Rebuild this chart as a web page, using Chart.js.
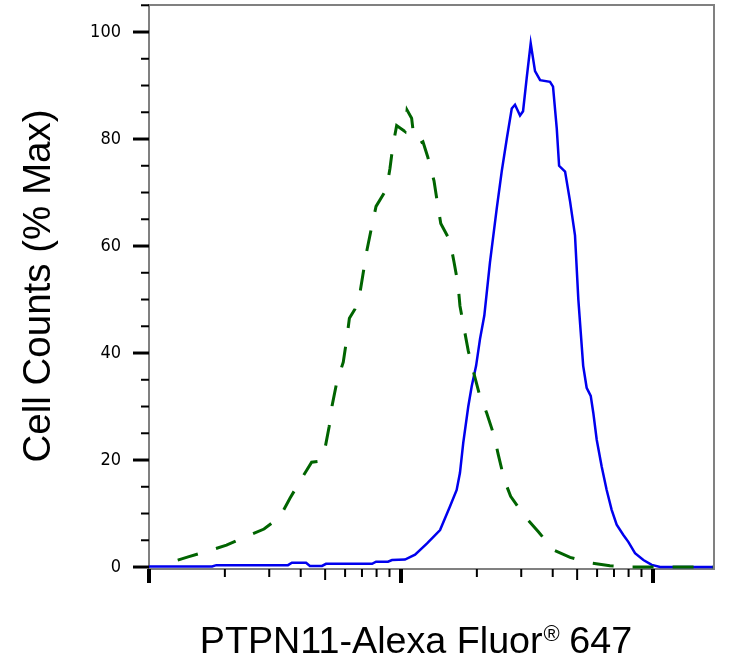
<!DOCTYPE html>
<html>
<head>
<meta charset="utf-8">
<script src="https://cdn.jsdelivr.net/npm/chart.js@4.4.0/dist/chart.umd.min.js"></script>
<style>
  html, body { margin: 0; padding: 0; background: #fff; }
  #wrap { width: 756px; height: 662px; }
</style>
</head>
<body>
<div id="wrap"><canvas id="myChart"></canvas></div>
<script>
// histogram values (x = channel, y = % of max)
const blueX = [10, 17.8, 18.5, 35.6, 36.9, 42.0, 43.5, 48.6, 50.4, 76.8, 79.6, 88.8, 92.1, 103.7,
  113.7, 126.9, 142.9, 156.4, 166.3, 171.4, 176.6, 184.9, 190.8, 198.6, 205.8, 214.1, 225.5,
  239.8, 251.1, 262.8, 275.1, 283.4, 296.7, 305.0, 315.3, 327.1, 340.3, 356.5, 390.3, 401.1,
  415.0, 424.0, 447.8, 468.8, 490.3, 505.5, 516.6, 528.4, 545.4, 566.1, 579.6, 597.9, 625.6,
  654.8, 685.4, 717.5, 762.7, 798.1, 848.5, 915.9, 988.6, 1067, 1746];
const blueY = [0.1, 0.1, 0.35, 0.35, 0.8, 0.8, 0.2, 0.2, 0.6, 0.6, 1.0, 1.0, 1.3, 1.4,
  2.3, 4.4, 6.9, 11.3, 14.4, 17.6, 23.2, 30, 33.8, 37.6, 42.6, 47, 57,
  67, 74, 80, 85.7, 86.4, 84.4, 85.2, 91.4, 97.9, 92.7, 91, 90.7, 89.8,
  82, 75, 73.9, 68.3, 62, 50, 43.9, 37.6, 33.5, 32, 28.8, 23.8, 18.8,
  14.4, 10.7, 7.9, 6, 4.7, 2.6, 1.3, 0.4, 0, 0];

const greenX = [13.0, 14.3, 16.9, 20.3, 24.0, 28.6, 33.1, 36.3, 39.7, 44.2, 47.7, 49.9, 51.9,
  53.3, 55.6, 59.0, 60.9, 62.4, 65.6, 66.7, 68.7, 73.1, 76.5, 79.6, 87.7, 90.4, 92.9, 96.1,
  103.7, 105.7, 110.2, 112.7, 118.9, 122.2, 127.6, 135.2, 139.0, 143.8, 156.4, 162.3, 168.3,
  171.4, 177.8, 184.9, 193.6, 204.6, 218.8, 233.9, 243.2, 257.0, 272.3, 310.5, 350.8, 401.8,
  468.8, 562.3, 674.5, 826.0, 1746];
const greenY = [1.3, 1.9, 2.9, 4.1, 5.6, 7.1, 9.4, 12.9, 16, 19.6, 19.8, 22.1, 26.3,
  30.2, 34.5, 38.3, 42.6, 46.5, 48.2, 49.8, 51.2, 59, 63.6, 67.4, 70.7, 74.5, 78.8, 82.5,
  81.4, 85.4, 83.9, 80, 79.2, 79.5, 76.7, 72.2, 68.5, 64.2, 61, 57, 52.9,
  48.8, 44.7, 40.4, 36.6, 32.3, 28.8, 24.6, 21, 16.3, 13.2, 9.4, 6.6, 3.2,
  1.8, 0.8, 0.25, 0, 0];

const yMajor = [0, 20, 40, 60, 80, 100];
const yTickLabels = ['0', '20', '40', '60', '80', '100'];
const yMinor = [5, 10, 15, 25, 30, 35, 45, 50, 55, 65, 70, 75, 85, 90, 95, 105];
const xMajor = [10, 100, 1000];
const xMid = [50, 500];
const xMinor = [20, 30, 40, 60, 70, 80, 90, 200, 300, 400, 600, 700, 800, 900];

const xTitle = ['PTPN11-Alexa Fluor', '\u00AE', ' 647'];
const yTitle = 'Cell Counts (% Max)';

function toPoints(xs, ys) {
  return xs.map((x, i) => ({ x: x, y: ys[i] }));
}

// tick marks and the top/right frame
const axisTicks = {
  id: 'axisTicks',
  afterDraw(chart) {
    const { ctx, chartArea: a, scales: { x, y } } = chart;
    function tick(x1, y1, x2, y2, w) {
      ctx.lineWidth = w;
      ctx.beginPath();
      ctx.moveTo(x1, y1);
      ctx.lineTo(x2, y2);
      ctx.stroke();
    }
    ctx.save();
    ctx.strokeStyle = '#000';
    yMajor.forEach(v => { const p = y.getPixelForValue(v); tick(a.left - 16, p, a.left, p, 3); });
    yMinor.forEach(v => { const p = y.getPixelForValue(v); tick(a.left - 8, p, a.left, p, 2); });
    xMajor.forEach(v => { const p = x.getPixelForValue(v); tick(p, a.bottom, p, a.bottom + 14, 4); });
    xMid.forEach(v => { const p = x.getPixelForValue(v); tick(p, a.bottom, p, a.bottom + 11, 2); });
    xMinor.forEach(v => { const p = x.getPixelForValue(v); tick(p, a.bottom, p, a.bottom + 8, 2); });

    ctx.strokeStyle = '#808080';
    ctx.lineWidth = 2;
    ctx.beginPath();
    ctx.moveTo(a.left, a.top);
    ctx.lineTo(a.right, a.top);
    ctx.lineTo(a.right, a.bottom);
    ctx.stroke();
    ctx.restore();
  }
};

// axis titles
const axisTitles = {
  id: 'axisTitles',
  afterDraw(chart) {
    const ctx = chart.ctx;
    ctx.save();
    ctx.fillStyle = '#000';
    ctx.textBaseline = 'alphabetic';

    const big = '37.7px "Liberation Sans", Arial, sans-serif';
    const small = '22px "Liberation Sans", Arial, sans-serif';
    ctx.font = big;
    const w0 = ctx.measureText(xTitle[0]).width;
    const w2 = ctx.measureText(xTitle[2]).width;
    ctx.font = small;
    const w1 = ctx.measureText(xTitle[1]).width;
    let left = 416 - (w0 + w1 + w2) / 2;
    const base = 653;
    ctx.textAlign = 'left';
    ctx.font = big;
    ctx.fillText(xTitle[0], left, base);
    ctx.font = small;
    ctx.fillText(xTitle[1], left + w0 + 1, base - 12);
    ctx.font = big;
    ctx.fillText(xTitle[2], left + w0 + w1, base);

    ctx.translate(50, 286);
    ctx.rotate(-Math.PI / 2);
    ctx.textAlign = 'center';
    ctx.font = '38.5px "Liberation Sans", Arial, sans-serif';
    ctx.fillText(yTitle, 0, 0);
    ctx.restore();
  }
};

const ctx = document.getElementById('myChart');

const myChart = new Chart(ctx, {
  type: 'line',
  data: {
    datasets: [
      {
        label: 'isotype',
        data: toPoints(greenX, greenY),
        borderColor: 'rgb(0, 100, 0)',
        borderWidth: 3,
        borderDash: [21, 19],
        pointRadius: 0,
        tension: 0,
        fill: false
      },
      {
        label: 'PTPN11',
        data: toPoints(blueX, blueY),
        borderColor: 'rgb(0, 0, 238)',
        borderWidth: 2.5,
        pointRadius: 0,
        tension: 0,
        fill: false
      }
    ]
  },
  options: {
    responsive: true,
    maintainAspectRatio: false,
    animation: false,
    layout: { padding: { top: 5, right: 42, left: 0, bottom: 0 } },
    plugins: {
      legend: { display: false },
      tooltip: { enabled: false }
    },
    scales: {
      x: {
        type: 'logarithmic',
        min: 10,
        max: 1746,
        afterFit: s => { s.height = 93; s.paddingLeft = 0; s.paddingRight = 0; },
        ticks: { display: false },
        grid: { display: false, drawTicks: false },
        border: { display: true, color: '#808080', width: 2 }
      },
      y: {
        type: 'linear',
        min: -0.37,
        max: 105.05,
        afterFit: s => { s.width = 149; s.paddingTop = 0; s.paddingBottom = 0; },
        afterBuildTicks: s => { s.ticks = yMajor.map(v => ({ value: v })); },
        ticks: {
          padding: 28,
          color: '#000',
          font: { family: '"Liberation Sans Narrow", "Arial Narrow", "DejaVu Sans Condensed", sans-serif', size: 18 },
          callback: (v, i) => yTickLabels[i]
        },
        grid: { display: false, drawTicks: false },
        border: { display: true, color: '#808080', width: 2 }
      }
    }
  },
  plugins: [axisTicks, axisTitles]
});
</script>
</body>
</html>
